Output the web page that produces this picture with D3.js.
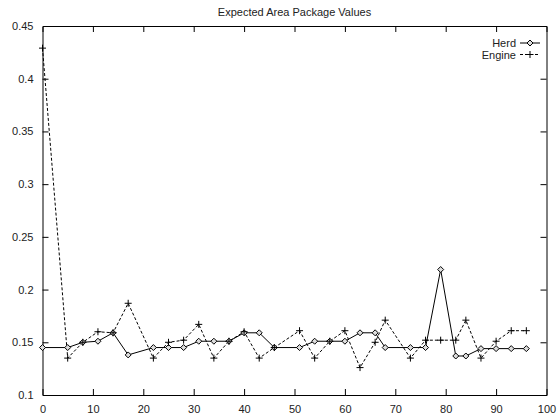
<!DOCTYPE html>
<html>
<head>
<meta charset="utf-8">
<script src="https://cdn.jsdelivr.net/npm/d3@7"></script>
<style>
	body { margin: 0; background: #fff; }
	svg { display: block; }
	text { font-family: "Liberation Sans", Arial, Helvetica, sans-serif; fill: #222; }
</style>
</head>
<body>
<div id="chart"></div>
<script>
// x positions of the samples (shared by both series)
const xs = [0, 5, 8, 11, 14, 17, 22, 25, 28, 31, 34, 37, 40, 43, 46, 51, 54, 57, 60, 63, 66, 68, 73, 76, 79, 82, 84, 87, 90, 93, 96];

const herd = [0.145, 0.145, 0.150, 0.151, 0.159, 0.138, 0.145, 0.145, 0.145, 0.151, 0.151, 0.151, 0.159, 0.159, 0.145, 0.145,
	0.151, 0.151, 0.151, 0.159, 0.159, 0.145, 0.145, 0.145, 0.219, 0.137, 0.137, 0.144, 0.144, 0.144, 0.144];

const engine = [0.429, 0.135, 0.150, 0.160, 0.159, 0.187, 0.135, 0.150, 0.152, 0.167, 0.135, 0.151, 0.160, 0.135, 0.145, 0.161,
	0.135, 0.151, 0.161, 0.126, 0.150, 0.171, 0.135, 0.152, 0.152, 0.152, 0.171, 0.135, 0.151, 0.161, 0.161];

const xTicks = [0, 10, 20, 30, 40, 50, 60, 70, 80, 90, 100];
const yTicks = [0.1, 0.15, 0.2, 0.25, 0.3, 0.35, 0.4, 0.45];

const W = 560, H = 415;
const margin = { top: 26, right: 13.5, bottom: 20, left: 42.5 };

const svg = d3.select('#chart').append('svg')
	.attr('width', W)
	.attr('height', H);

const x = d3.scaleLinear().domain([0, 100]).range([margin.left, W - margin.right]);
const y = d3.scaleLinear().domain([0.1, 0.45]).range([H - margin.bottom, margin.top]);

const TICK = 6;

// title
svg.append('text')
	.attr('x', (x(0) + x(100)) / 2)
	.attr('y', 16)
	.attr('text-anchor', 'middle')
	.style('font-size', '11px')
	.text('Expected Area Package Values');

/* -------- axes: gnuplot style, ticks inward on all four sides -------- */
const axisG = svg.append('g').attr('class', 'axes');

axisG.append('g')
	.attr('transform', `translate(0,${y(0.1)})`)
	.call(d3.axisBottom(x).tickValues(xTicks).tickSize(-TICK).tickPadding(TICK + 4).tickFormat(d3.format('d')));

axisG.append('g')
	.attr('transform', `translate(0,${y(0.45)})`)
	.call(d3.axisTop(x).tickValues(xTicks).tickSize(-TICK).tickFormat(''));

axisG.append('g')
	.attr('transform', `translate(${x(0)},0)`)
	.call(d3.axisLeft(y).tickValues(yTicks).tickSize(-TICK).tickPadding(TICK + 3).tickFormat(d => d3.format('')(+d.toFixed(2))));

axisG.append('g')
	.attr('transform', `translate(${x(100)},0)`)
	.call(d3.axisRight(y).tickValues(yTicks).tickSize(-TICK).tickFormat(''));

axisG.selectAll('.domain').attr('stroke', '#000').attr('stroke-width', 1);
axisG.selectAll('.tick line').attr('stroke', '#000');
axisG.selectAll('.tick text').style('font-size', '11px').attr('fill', '#222');

// suppress the end ticks that sit on the frame corners
axisG.selectAll('.tick').filter(d => d === 0 || d === 100 || d === 0.1 || d === 0.45)
	.select('line').remove();

/* -------- series -------- */
const herdData = xs.map((v, i) => ({ x: v, y: herd[i] }));
const engineData = xs.map((v, i) => ({ x: v, y: engine[i] }));

const line = d3.line().x(d => x(d.x)).y(d => y(d.y));

const plot = svg.append('g').attr('class', 'plot');

plot.append('path')
	.datum(engineData)
	.attr('d', line)
	.attr('fill', 'none')
	.attr('stroke', '#000')
	.attr('stroke-width', 1)
	.attr('stroke-dasharray', '3,2');

plot.append('path')
	.datum(herdData)
	.attr('d', line)
	.attr('fill', 'none')
	.attr('stroke', '#000')
	.attr('stroke-width', 1);

const diamond = 'M0,-3L3,0L0,3L-3,0Z';
const cross = 'M-3.5,0H3.5M0,-3.5V3.5';

plot.selectAll('.herd-pt')
	.data(herdData)
	.join('path')
	.attr('class', 'herd-pt')
	.attr('transform', d => `translate(${x(d.x)},${y(d.y)})`)
	.attr('d', diamond)
	.attr('fill', '#ddd')
	.attr('stroke', '#000')
	.attr('stroke-width', 1);

plot.selectAll('.engine-pt')
	.data(engineData)
	.join('path')
	.attr('class', 'engine-pt')
	.attr('transform', d => `translate(${x(d.x)},${y(d.y)})`)
	.attr('d', cross)
	.attr('fill', 'none')
	.attr('stroke', '#000')
	.attr('stroke-width', 1);

/* -------- legend -------- */
const legend = svg.append('g').attr('class', 'legend');
const legendItems = [
	{ name: 'Herd', dash: null, marker: diamond, fill: '#ddd' },
	{ name: 'Engine', dash: '3,2', marker: cross, fill: 'none' }
];

legendItems.forEach((item, i) => {
	const ly = 43 + i * 11.5;
	const x0 = 520, x1 = 540;
	legend.append('text')
		.attr('x', x0 - 4)
		.attr('y', ly + 4)
		.attr('text-anchor', 'end')
		.style('font-size', '11px')
		.text(item.name);
	legend.append('line')
		.attr('x1', x0).attr('x2', x1)
		.attr('y1', ly).attr('y2', ly)
		.attr('stroke', '#000')
		.attr('stroke-dasharray', item.dash);
	legend.append('path')
		.attr('transform', `translate(${(x0 + x1) / 2},${ly})`)
		.attr('d', item.marker)
		.attr('fill', item.fill)
		.attr('stroke', '#000');
});
</script>
</body>
</html>
